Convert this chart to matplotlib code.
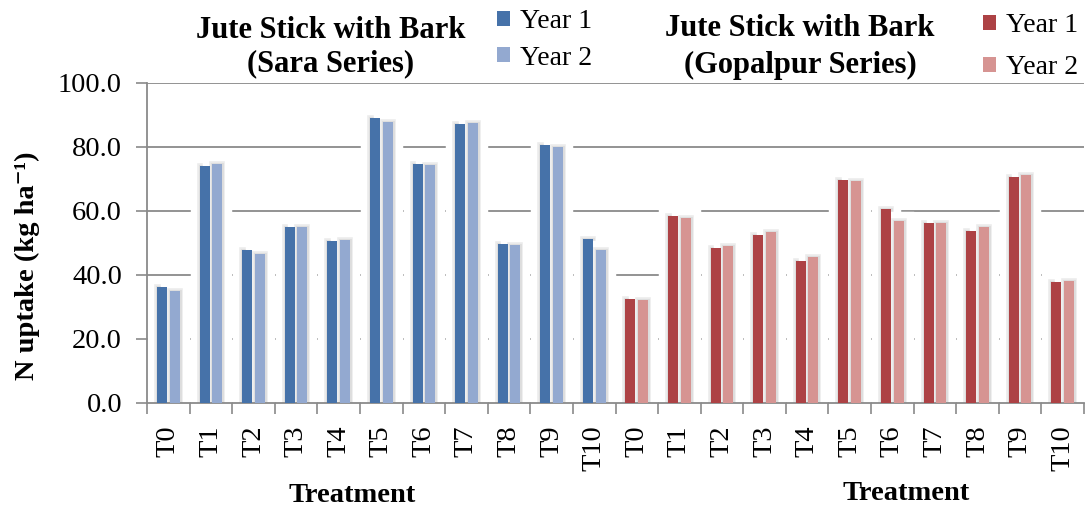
import numpy as np
import matplotlib
matplotlib.use("Agg")
import matplotlib.pyplot as plt
from matplotlib import patheffects as pe

plt.rcParams['font.family'] = ['Liberation Serif', 'DejaVu Serif']

# Data
treatments = ['T0', 'T1', 'T2', 'T3', 'T4', 'T5', 'T6', 'T7', 'T8', 'T9', 'T10']
sara_year1 = [36.2, 74.1, 47.8, 54.9, 50.5, 89.1, 74.8, 87.2, 49.6, 80.6, 51.3]
sara_year2 = [34.9, 74.6, 46.6, 54.9, 50.9, 87.8, 74.5, 87.5, 49.3, 79.9, 47.8]
gopalpur_year1 = [32.6, 58.4, 48.5, 52.6, 44.5, 69.7, 60.7, 56.3, 53.6, 70.5, 37.9]
gopalpur_year2 = [32.1, 57.7, 49.1, 53.5, 45.5, 69.5, 57.0, 56.3, 55.1, 71.3, 38.1]
yticks = [0, 20, 40, 60, 80, 100]

blue_dark, blue_light = '#4672a9', '#93a9d0'
red_dark, red_light = '#ad4245', '#d69492'
grid_col = '#8a8a8a'

W, H = 1085, 508
fig = plt.figure(figsize=(W / 100, H / 100), dpi=100)
ax = fig.add_axes([147 / W, (H - 403) / H, (1084 - 147) / W, (403 - 83) / H])

n = len(treatments)
x_sara = np.arange(n)
x_gop = np.arange(n) + n
width = 0.235
off = 0.148

halo = [pe.Stroke(linewidth=14, foreground='white'),
        pe.Stroke(linewidth=4, foreground='#ebebeb'),
        pe.Stroke(linewidth=2, foreground='#dddddd'),
        pe.Normal()]

def draw_pair(xs, v1, v2, c1, c2, lab1, lab2):
    # white glow behind bars, interrupting the gridlines
    for dx, v in ((-off, v1), (off, v2)):
        hb = ax.bar(xs + dx, v, width, color='white', zorder=2, linewidth=0)
        for p in hb:
            p.set_path_effects(halo)
    b1 = ax.bar(xs - off, v1, width, color=c1, zorder=3, linewidth=0, label=lab1)
    b2 = ax.bar(xs + off, v2, width, color=c2, zorder=3, linewidth=0, label=lab2)
    return b1, b2

sb1, sb2 = draw_pair(x_sara, np.array(sara_year1), np.array(sara_year2),
                     blue_dark, blue_light, 'Year 1', 'Year 2')
gb1, gb2 = draw_pair(x_gop, np.array(gopalpur_year1), np.array(gopalpur_year2),
                     red_dark, red_light, 'Year 1', 'Year 2')

ax.set_xlim(-0.5, 2 * n - 0.5)
ax.set_ylim(0, 100)
ax.set_yticks(yticks)
ax.set_yticklabels([f'{v:.1f}' for v in yticks], fontsize=20.5)
ax.yaxis.grid(True, color=grid_col, linewidth=1.3, zorder=1)
ax.set_axisbelow(True)

ax.set_xticks(np.arange(2 * n))
ax.set_xticklabels(treatments + treatments, rotation=90, fontsize=20.5)
ax.set_xticks(np.arange(2 * n + 1) - 0.5, minor=True)
ax.tick_params(axis='x', which='major', length=0, pad=16)
ax.tick_params(axis='x', which='minor', length=8, width=1.2, color=grid_col, direction='out')
ax.tick_params(axis='y', length=8, width=1.2, color=grid_col, direction='out', pad=10)

for s in ('top', 'right'):
    ax.spines[s].set_visible(False)
for s in ('left', 'bottom'):
    ax.spines[s].set_color(grid_col)
    ax.spines[s].set_linewidth(1.3)

ax.set_ylabel('N uptake (kg ha\u207b\u00b9)', fontsize=20.5, fontweight='bold')
ax.yaxis.set_label_coords((40 - 147) / 937, 0.43)

# axis titles under each half
fig.text(352 / W, 1 - 495 / H, 'Treatment', ha='center', va='center', fontsize=20.5, fontweight='bold')
fig.text(906 / W, 1 - 493 / H, 'Treatment', ha='center', va='center', fontsize=20.5, fontweight='bold')

# panel titles
fig.text(331 / W, 1 - 47 / H, 'Jute Stick with Bark\n(Sara Series)', ha='center', va='center',
         fontsize=22, fontweight='bold', linespacing=1.22)
fig.text(800 / W, 1 - 47 / H, 'Jute Stick with Bark\n(Gopalpur Series)', ha='center', va='center',
         fontsize=22, fontweight='bold', linespacing=1.34)

leg_kw = dict(frameon=False, fontsize=20, handlelength=0.45, handleheight=0.45,
              handletextpad=0.36, borderpad=0, borderaxespad=0)
fig.legend(handles=[sb1, sb2], loc='upper left', bbox_to_anchor=(497 / W, 1 - 9 / H),
           labelspacing=0.42, **leg_kw)
fig.legend(handles=[gb1, gb2], loc='upper left', bbox_to_anchor=(983 / W, 1 - 13 / H),
           labelspacing=0.63, **leg_kw)

fig.savefig('out.png', dpi=100, facecolor='white')
